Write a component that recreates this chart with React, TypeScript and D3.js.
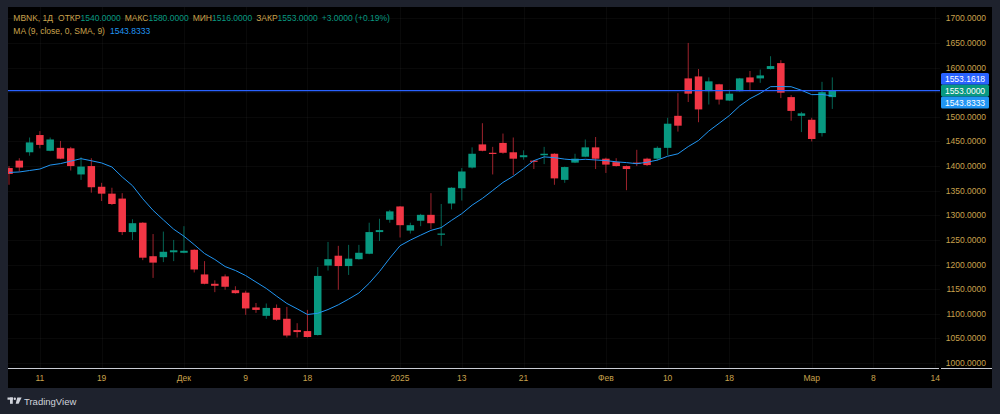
import React from "react";
import * as d3 from "d3";

// MBNK daily candles (oldest first)
const opens = [
  1396, 1411, 1428, 1463, 1431, 1437, 1436, 1383, 1400, 1358,
  1344, 1334, 1266, 1285, 1217, 1215, 1225, 1224, 1230, 1180,
  1161, 1176, 1148, 1143, 1113, 1096, 1112, 1090, 1067, 1065,
  1057, 1198, 1218, 1197, 1211, 1222, 1266, 1291, 1318, 1269,
  1289, 1301, 1261, 1324, 1355, 1397, 1444, 1427, 1447, 1428,
  1418, 1411, 1422, 1425, 1372, 1407, 1419, 1438, 1415, 1408,
  1400, 1407, 1415, 1415, 1437, 1502, 1578, 1582, 1552, 1566,
  1533, 1552, 1580, 1578, 1597, 1609, 1540, 1502, 1494, 1467,
  1540,
];
const highs = [
  1400, 1416, 1458, 1471, 1458, 1451, 1439, 1418, 1416, 1366,
  1356, 1345, 1292, 1286, 1262, 1267, 1250, 1278, 1231, 1207,
  1168, 1180, 1156, 1147, 1122, 1121, 1119, 1114, 1081, 1108,
  1195, 1246, 1238, 1240, 1240, 1285, 1293, 1311, 1319, 1285,
  1303, 1345, 1323, 1357, 1396, 1438, 1487, 1439, 1466, 1458,
  1432, 1412, 1439, 1426, 1399, 1425, 1454, 1459, 1417, 1416,
  1401, 1433, 1417, 1440, 1498, 1548, 1650, 1597, 1580, 1567,
  1555, 1579, 1593, 1596, 1623, 1615, 1544, 1510, 1498, 1571,
  1580,
];
const lows = [
  1362, 1389, 1421, 1436, 1430, 1414, 1391, 1372, 1346, 1329,
  1321, 1260, 1250, 1209, 1173, 1205, 1207, 1223, 1184, 1160,
  1144, 1149, 1141, 1098, 1102, 1090, 1086, 1052, 1052, 1052,
  1056, 1188, 1149, 1179, 1210, 1221, 1248, 1285, 1255, 1263,
  1278, 1272, 1238, 1312, 1330, 1395, 1430, 1383, 1425, 1382,
  1413, 1394, 1404, 1362, 1366, 1406, 1418, 1394, 1386, 1399,
  1351, 1400, 1400, 1411, 1422, 1470, 1530, 1489, 1525, 1525,
  1532, 1551, 1552, 1569, 1596, 1538, 1492, 1469, 1450, 1460,
  1516,
];
const closes = [
  1384, 1397, 1448, 1443, 1454, 1415, 1400, 1399, 1357, 1344,
  1323, 1266, 1284, 1214, 1204, 1226, 1229, 1228, 1190, 1161,
  1157, 1155, 1142, 1111, 1108, 1112, 1088, 1056, 1063, 1053,
  1177, 1211, 1197, 1212, 1224, 1266, 1270, 1308, 1280, 1280,
  1301, 1284, 1263, 1356, 1389, 1425, 1431, 1425, 1427, 1415,
  1422, 1409, 1425, 1375, 1398, 1415, 1438, 1415, 1403, 1400,
  1394, 1405, 1402, 1437, 1486, 1482, 1547, 1515, 1572, 1535,
  1547, 1578, 1570, 1584, 1603, 1549, 1512, 1507, 1455, 1550,
  1553,
];
const maLead = [1387, 1388, 1391, 1394, 1402, 1405, 1410, 1415];

const priceTicks = [1000, 1050, 1100, 1150, 1200, 1250, 1300, 1350, 1400, 1450, 1500, 1600, 1650, 1700];
const timeTickIdx = [3, 9, 17, 23, 29, 38, 44, 50, 58, 64, 70, 78, 84, 90];
const timeTickLabels = ["11", "19", "Дек", "9", "18", "2025", "13", "21", "Фев", "10", "18", "Мар", "8", "14"];

const hLinePrice = 1553.1618;
const maLast = 1543.8333;

const UP = "#089981";
const DOWN = "#F23645";
const GOLD = "#C9A24D";
const FONT = "'Liberation Sans', Arial, sans-serif";

export default function App() {
  const n = closes.length;
  const plotL = 8, plotR = 940, plotT = 7, axisY = 368;

  const x = d3.scaleLinear().domain([0, n - 1]).range([9, 832.3]);
  const y = d3.scaleLinear().domain([1000, 1700]).range([363.1, 18.3]);

  const ma = closes.map((_, i) =>
    i < 8 ? maLead[i] : (d3.mean(closes.slice(i - 8, i + 1)) as number)
  );
  const maPath = d3.line<number>().x((_, i) => x(i)).y(d => y(d))(ma) || "";

  const bodyW = 7.5;
  const last = n - 1;
  const o = opens[last], h = highs[last], l = lows[last], c = closes[last];
  const chg = c - closes[last - 1];
  const pct = (chg / closes[last - 1]) * 100;
  const sign = (v: number) => (v >= 0 ? "+" : "");

  // price-scale labels, stacked around the last-price label
  const labels = [
    { price: hLinePrice, color: "#2962FF" },
    { price: c, color: c >= o ? UP : DOWN },
    { price: maLast, color: "#2196F3" },
  ].sort((a, b) => b.price - a.price);
  const closeIdx = labels.findIndex(d => d.price === c);
  const labelH = 11.8;

  return (
    <svg width={1000} height={414} style={{ position: "absolute", left: 0, top: 0, fontFamily: FONT }}>
      <rect width={1000} height={414} fill="#1E222D" />
      <rect x={plotL} y={plotT} width={984} height={381} fill="#000" />
      <defs>
        <clipPath id="plot">
          <rect x={plotL} y={plotT} width={plotR - plotL} height={axisY - plotT} />
        </clipPath>
      </defs>

      {/* grid */}
      <g stroke="#ffffff" strokeOpacity={0.035} strokeWidth={1}>
        {timeTickIdx.map(i => (
          <line key={"v" + i} x1={Math.round(x(i)) + 0.5} x2={Math.round(x(i)) + 0.5} y1={plotT} y2={axisY} />
        ))}
        {d3.range(1000, 1701, 50).map(p => (
          <line key={"h" + p} x1={plotL} x2={plotR} y1={Math.round(y(p)) + 0.5} y2={Math.round(y(p)) + 0.5} />
        ))}
      </g>

      <g clipPath="url(#plot)">
        {closes.map((cl, i) => {
          const op = opens[i];
          const col = cl >= op ? UP : DOWN;
          const top = y(Math.max(op, cl));
          const bh = Math.max(1.2, Math.abs(y(op) - y(cl)));
          return (
            <g key={i}>
              <line x1={x(i)} x2={x(i)} y1={y(highs[i])} y2={y(lows[i])} stroke={col} strokeOpacity={0.65} strokeWidth={1} />
              <rect x={x(i) - bodyW / 2} y={top} width={bodyW} height={bh} fill={col} />
            </g>
          );
        })}
        <path d={maPath} fill="none" stroke="#2196F3" strokeWidth={1} />
        <line x1={plotL} x2={plotR} y1={y(hLinePrice)} y2={y(hLinePrice)} stroke="#2962FF" strokeWidth={1.3} />
      </g>

      {/* axes separators */}
      <line x1={plotL} x2={plotR - 1} y1={axisY + 0.5} y2={axisY + 0.5} stroke="#C8CBD3" strokeWidth={1} />
      <line x1={plotR + 1} x2={992} y1={axisY + 0.5} y2={axisY + 0.5} stroke="#C8CBD3" strokeWidth={1} />

      {/* price axis */}
      <g fontSize={8.5} fill={GOLD} textAnchor="end">
        {priceTicks.map(p => (
          <text key={p} x={986} y={y(p)} dominantBaseline="central">
            {p.toFixed(4)}
          </text>
        ))}
      </g>
      {labels.map((d, i) => {
        const cy = y(c) + (i - closeIdx) * labelH;
        return (
          <g key={i}>
            <rect x={941} y={cy - labelH / 2} width={48} height={labelH} rx={1.5} fill={d.color} />
            <text x={965} y={cy} fontSize={8.5} fill="#fff" textAnchor="middle" dominantBaseline="central">
              {d.price.toFixed(4)}
            </text>
          </g>
        );
      })}

      {/* time axis */}
      <g fontSize={8.5} fill={GOLD} textAnchor="middle">
        {timeTickIdx.map((i, k) => (
          <text key={i} x={x(i)} y={377.5} dominantBaseline="central">
            {timeTickLabels[k]}
          </text>
        ))}
      </g>

      {/* legend */}
      <text x={13.3} y={17.5} fontSize={8.5} fill={GOLD} dominantBaseline="central">
        <tspan>MBNK, 1Д</tspan>
        <tspan dx={5}>ОТКР</tspan>
        <tspan fill={UP}>{o.toFixed(4)}</tspan>
        <tspan dx={4}>МАКС</tspan>
        <tspan fill={UP}>{h.toFixed(4)}</tspan>
        <tspan dx={4}>МИН</tspan>
        <tspan fill={UP}>{l.toFixed(4)}</tspan>
        <tspan dx={4}>ЗАКР</tspan>
        <tspan fill={UP}>{c.toFixed(4)}</tspan>
        <tspan dx={4} fill={UP}>
          {`${sign(chg)}${chg.toFixed(4)} (${sign(pct)}${pct.toFixed(2)}%)`}
        </tspan>
      </text>
      <text x={13.3} y={30.7} fontSize={8.5} fill={GOLD} dominantBaseline="central">
        <tspan>MA (9, close, 0, SMA, 9)</tspan>
        <tspan dx={5} fill="#2196F3">{maLast.toFixed(4)}</tspan>
      </text>

      {/* TradingView mark */}
      <g fill="#D1D4DC">
        <rect x={7.5} y={397.5} width={5.5} height={2.2} />
        <rect x={10} y={397.5} width={2.8} height={6.3} />
        <circle cx={14.8} cy={398.7} r={1.2} />
        <path d="M17.3 397.5 L21.6 397.5 L18.6 403.8 L15.7 403.8 Z" />
      </g>
      <text x={24} y={401} fontSize={9.5} fill="#D1D4DC" dominantBaseline="central">
        TradingView
      </text>
    </svg>
  );
}
